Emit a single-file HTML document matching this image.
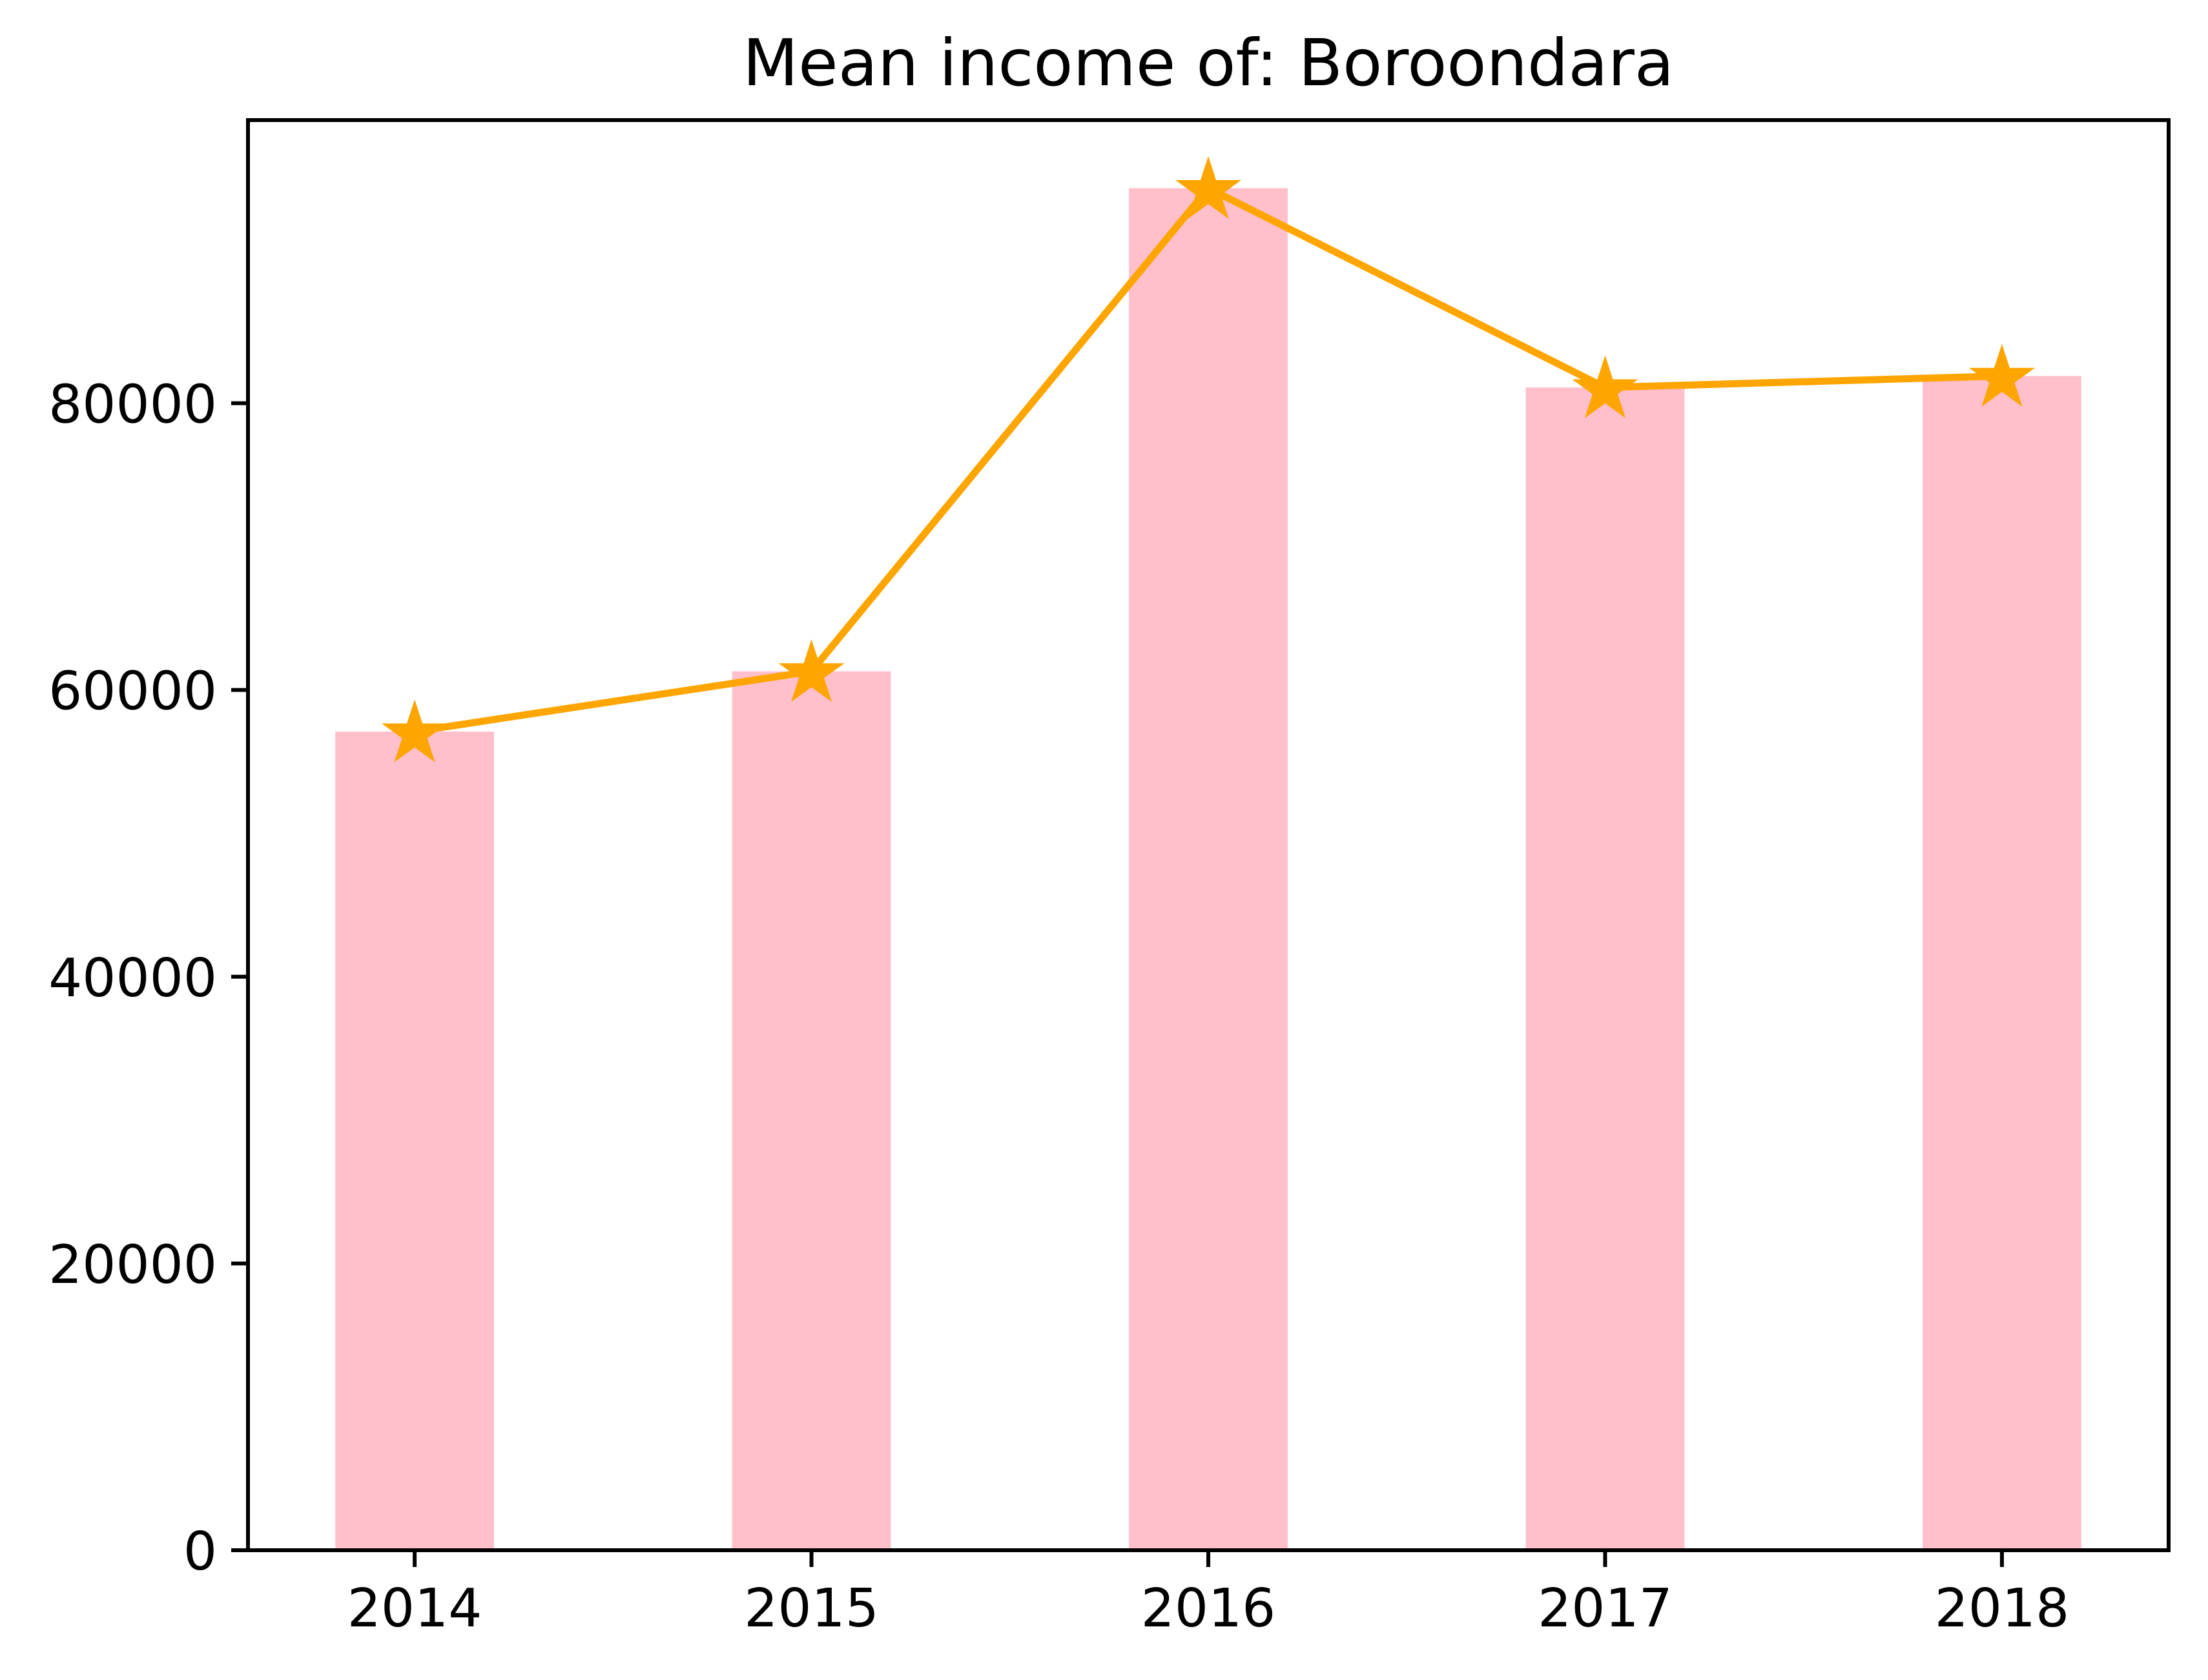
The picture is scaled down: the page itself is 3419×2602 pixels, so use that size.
<!DOCTYPE html>
<html><head><meta charset="utf-8"><style>
html,body{margin:0;padding:0;background:#fff;}
svg{display:block;font-family:"DejaVu Sans","Liberation Sans",sans-serif;}
</style></head><body>
<svg id="chart" width="3419" height="2602" viewBox="0 0 3419 2602" xmlns="http://www.w3.org/2000/svg">
<rect width="3419" height="2602" fill="#fff"/>
<text x="1871" y="132" font-size="100" text-anchor="middle">Mean income of: Boroondara</text>
<g id="bars"></g>
<g id="line"></g>
<g id="axes"></g>
</svg>
<script>
const categories = ["2014","2015","2016","2017","2018"];
const values = [57100, 61300, 95000, 81100, 81900];
const yTicks = [0, 20000, 40000, 60000, 80000];
const yTickLabels = ["0","20000","40000","60000","80000"];

const L=384, R=3358, T=186, B=2401;
const NS="http://www.w3.org/2000/svg";
const n=categories.length, bw=0.4;
const xmin=-bw/2-0.05*(n-1+bw), xmax=n-1+bw/2+0.05*(n-1+bw);
const ymax=Math.max(...values)*1.05;
const xs=v=>L+(v-xmin)/(xmax-xmin)*(R-L);
const ys=v=>B-v/ymax*(B-T);
function mk(tag,attrs,parent){const e=document.createElementNS(NS,tag);for(const k in attrs)e.setAttribute(k,attrs[k]);parent.appendChild(e);return e;}
const gb=document.getElementById('bars'), gl=document.getElementById('line'), ga=document.getElementById('axes');
values.forEach((v,i)=>{
  const x0=xs(i-bw/2), x1=xs(i+bw/2);
  const r=mk('rect',{x:x0,y:ys(v),width:x1-x0,height:B-ys(v),fill:'#ffc0cb'},gb);
  
  
});
const pts=values.map((v,i)=>xs(i)+','+ys(v)).join(' ');
const pl=mk('polyline',{points:pts,fill:'none',stroke:'#ffa500','stroke-width':11,'stroke-linejoin':'round','stroke-linecap':'square'},gl);


function star(cx,cy,R1){const r2=R1*0.382;let p=[];for(let k=0;k<10;k++){const a=-Math.PI/2+k*Math.PI/5;const rr=k%2?r2:R1;p.push((cx+rr*Math.cos(a)).toFixed(1)+','+(cy+rr*Math.sin(a)).toFixed(1));}return p.join(' ');}
values.forEach((v,i)=>{
  const s=mk('polygon',{points:star(xs(i),ys(v)+4,44),fill:'#ffa500',stroke:'#ffa500','stroke-width':6,'stroke-linejoin':'miter'},gl);
  
  
});
const frame=mk('rect',{x:L,y:T,width:R-L,height:B-T,fill:'none',stroke:'#000','stroke-width':6},ga);


categories.forEach((c,i)=>{
  const x=xs(i);
  const t=mk('line',{x1:x,y1:B,x2:x,y2:B+26,stroke:'#000','stroke-width':6},ga);
  
  
  const tx=mk('text',{x:x,y:B+118,'font-size':82,'text-anchor':'middle'},ga);
  tx.textContent=c;
  
  
});
yTicks.forEach((v,i)=>{
  const y=ys(v);
  const t=mk('line',{x1:L-26,y1:y,x2:L,y2:y,stroke:'#000','stroke-width':6},ga);
  
  
  const tx=mk('text',{x:L-48,y:y+30,'font-size':82,'text-anchor':'end'},ga);
  tx.textContent=yTickLabels[i];
  
  
});
</script>
</body></html>
